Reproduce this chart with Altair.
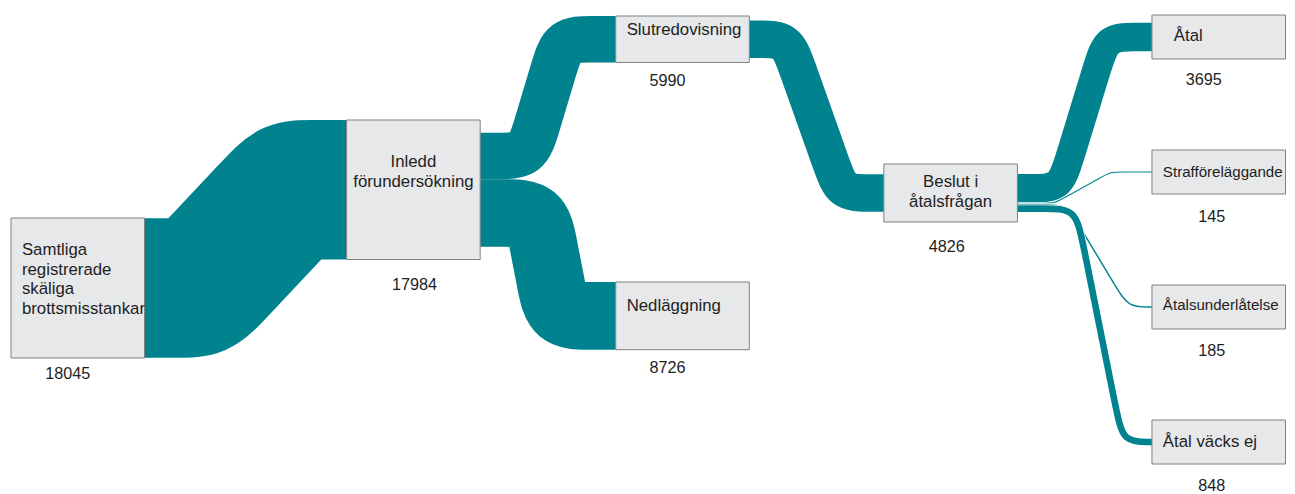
import altair as alt
import numpy as np
import pandas as pd

# ---------------- data ----------------
node_labels = [
    "Samtliga\nregistrerade\nskäliga\nbrottsmisstankar",
    "Inledd\nförundersökning",
    "Slutredovisning",
    "Nedläggning",
    "Beslut i\nåtalsfrågan",
    "Åtal",
    "Strafföreläggande",
    "Åtalsunderlåtelse",
    "Åtal väcks ej",
]
node_values = [18045, 17984, 5990, 8726, 4826, 3695, 145, 185, 848]
link_source = [0, 1, 1, 2, 4, 4, 4, 4]
link_target = [1, 2, 3, 4, 5, 6, 7, 8]
link_values = [17984, 5990, 8726, 4826, 3695, 145, 185, 848]

# ---------------- layout (reference pixel space) ----------------
node_left = [11, 349, 620, 620, 890, 1160, 1160, 1160, 1160]
node_top = [218, 120, 16, 282, 164, 15, 150, 285, 420]
node_width = 134.5
px_per_unit = 140 / 18045
label_align = ["left", "center", "left", "left", "center", "left", "left", "left", "left"]
label_size = [16.8, 16.8, 16.8, 16.8, 16.8, 16.8, 15.1, 15.1, 16.8]
label_dx = [11, 0, 11, 11, 0, 22, 11, 11, 11]
label_dy = [32, 42, 14, 24, 18, 21, 22, 20, 22]
value_dx = [-10, 1, -15, -15, -4, -15, -7, -7, -7]
value_dy = [16, 25, 19, 18, 25, 21, 23, 22, 22]
bend_center = [246.5, 549, 551, 820, 1091, 1090, 1105, 1107]
bend_half = [46.5, 17.6, 10, 27.4, 23.3, 28.5, 31, 23.5]
corner_r = 25

W, H = 1279, 486
XD = [8, 1296]
YD = [8, 494]
ys = H / (YD[1] - YD[0])

TEAL = "#00838f"
BOX_FILL = "#e6e8ea"
BOX_STROKE = "#808080"
TXT = "#1e1e1e"
FONT = "Liberation Sans"

X = alt.Scale(domain=XD, zero=False, nice=False)
Y = alt.Scale(domain=[YD[1], YD[0]], zero=False, nice=False)

n_nodes = len(node_values)
n_lines = [lab.count("\n") + 1 for lab in node_labels]
node_h = [max(v * px_per_unit, 30 + 14 * n) for v, n in zip(node_values, n_lines)]

# link slots: stacked and centred in the source / target boxes
link_w = [v * px_per_unit for v in link_values]
out_pos = {}
in_pos = {}
for nd in range(n_nodes):
    outs = [i for i, s in enumerate(link_source) if s == nd]
    tot = sum(link_w[i] for i in outs)
    y = node_top[nd] + (node_h[nd] - tot) / 2
    for i in outs:
        out_pos[i] = y + link_w[i] / 2
        y += link_w[i]
    ins = [i for i, t in enumerate(link_target) if t == nd]
    tot = sum(link_w[i] for i in ins)
    y = node_top[nd] + (node_h[nd] - tot) / 2
    for i in ins:
        in_pos[i] = y + link_w[i] / 2
        y += link_w[i]


def control_points(i):
    s, t = link_source[i], link_target[i]
    x0 = node_left[s] + node_width
    x1 = node_left[t]
    y0, y1 = out_pos[i], in_pos[i]
    ax, bx = bend_center[i] - bend_half[i], bend_center[i] + bend_half[i]
    dx, dy = bx - ax, y1 - y0
    L = float(np.hypot(dx, dy))
    ux, uy = dx / L, dy / L
    phi = float(np.arctan2(abs(dy), dx))
    tl = 1.6 * corner_r * np.tan(phi / 2)
    tA = min(tl, ax - x0, L / 2)
    tB = min(tl, x1 - bx, L / 2)
    return [
        (x0, y0),
        (ax - tA, y0),
        (ax, y0),
        (ax + ux * tA, y0 + uy * tA),
        (bx - ux * tB, y1 - uy * tB),
        (bx, y1),
        (bx + tB, y1),
        (x1, y1),
    ]


layers = []
for i in range(len(link_values)):
    pts = control_points(i)
    df = pd.DataFrame({"x": [p[0] for p in pts], "y": [p[1] for p in pts], "k": list(range(len(pts)))})
    base = alt.Chart(df).encode(
        x=alt.X("x:Q", scale=X, axis=None),
        y=alt.Y("y:Q", scale=Y, axis=None),
        order=alt.Order("k:Q"),
    )
    w = link_w[i] * ys
    if w < 10:
        layers.append(base.mark_line(color="white", strokeWidth=w + 1.4, interpolate="basis",
                                     strokeCap="butt", strokeJoin="round"))
    layers.append(base.mark_line(color=TEAL, strokeWidth=w, interpolate="basis",
                                 strokeCap="butt", strokeJoin="round"))

# boxes
box_df = pd.DataFrame({
    "x": node_left,
    "x2": [l + node_width for l in node_left],
    "y": node_top,
    "y2": [t + h for t, h in zip(node_top, node_h)],
})
layers.append(alt.Chart(box_df).mark_rect(fill=BOX_FILL, stroke=BOX_STROKE, strokeWidth=1).encode(
    x=alt.X("x:Q", scale=X, axis=None), x2="x2:Q",
    y=alt.Y("y:Q", scale=Y, axis=None), y2="y2:Q",
))

# labels
lab_rows = []
for nd in range(n_nodes):
    if label_align[nd] == "left":
        lx = node_left[nd] + label_dx[nd]
    else:
        lx = node_left[nd] + node_width / 2 + label_dx[nd]
    ly = node_top[nd] + label_dy[nd]
    lab_rows.append({"x": lx, "y": ly, "label": node_labels[nd], "align": label_align[nd],
                     "fs": label_size[nd]})
lab_df = pd.DataFrame(lab_rows)
for al in ["left", "center"]:
    layers.append(alt.Chart(lab_df[lab_df["align"] == al]).mark_text(
        align=al, baseline="middle", lineBreak="\n", lineHeight=19.5,
        font=FONT, color=TXT,
    ).encode(
        x=alt.X("x:Q", scale=X, axis=None),
        y=alt.Y("y:Q", scale=Y, axis=None),
        text="label:N",
        size=alt.Size("fs:Q", scale=None, legend=None),
    ))

# values under the boxes
val_df = pd.DataFrame({
    "x": [node_left[nd] + node_width / 2 + value_dx[nd] for nd in range(n_nodes)],
    "y": [node_top[nd] + node_h[nd] + value_dy[nd] for nd in range(n_nodes)],
    "v": [str(v) for v in node_values],
})
layers.append(alt.Chart(val_df).mark_text(
    align="center", baseline="middle", fontSize=16.2, font=FONT, color=TXT,
).encode(
    x=alt.X("x:Q", scale=X, axis=None),
    y=alt.Y("y:Q", scale=Y, axis=None),
    text="v:N",
))

chart = alt.layer(*layers).properties(
    width=W, height=H,
    autosize=alt.AutoSizeParams(type="none"),
    padding=0,
    background="white",
).configure_view(stroke="transparent")

chart.save("out.html", embed_options={"renderer": "svg", "actions": False})
